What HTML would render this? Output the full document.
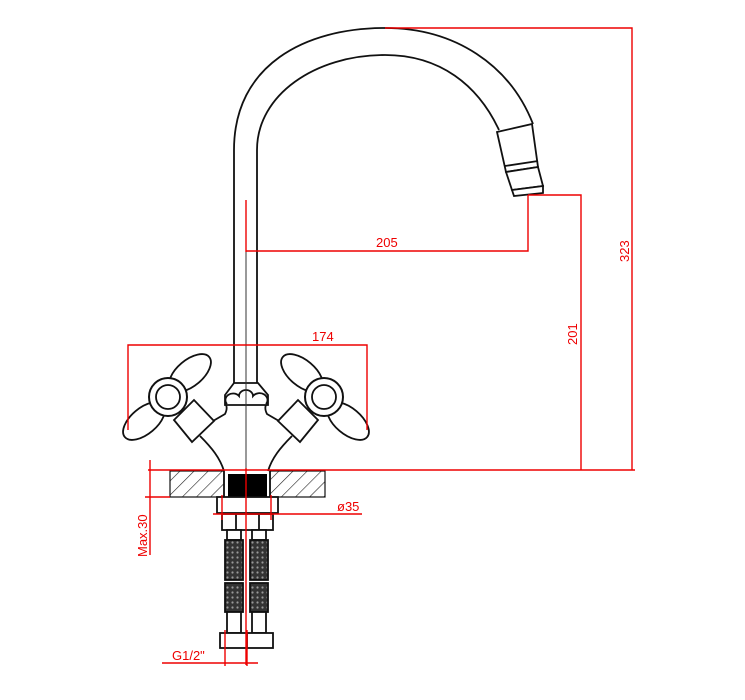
<!DOCTYPE html>
<html><head><meta charset="utf-8"><style>
html,body{margin:0;padding:0;background:#fff;}
svg{display:block;}
text{font-family:"Liberation Sans",sans-serif;fill:#e00;font-size:13px;}
</style></head><body>
<svg width="745" height="700" viewBox="0 0 745 700" xmlns="http://www.w3.org/2000/svg">
<defs>
<pattern id="h" width="10" height="10" patternUnits="userSpaceOnUse" patternTransform="rotate(45)">
<line x1="0" y1="0" x2="0" y2="10" stroke="#222" stroke-width="1.2"/>
</pattern>
<pattern id="m" width="5" height="5" patternUnits="userSpaceOnUse">
<rect width="5" height="5" fill="#333"/><circle cx="2.5" cy="2.5" r="1.1" fill="#999"/>
</pattern>
<g id="hd">
<ellipse cx="190" cy="373" rx="25" ry="13" transform="rotate(-40 190 373)" fill="#fff" stroke="#111" stroke-width="1.8"/>
<ellipse cx="144" cy="421" rx="25" ry="13" transform="rotate(-40 144 421)" fill="#fff" stroke="#111" stroke-width="1.8"/>
<polygon points="174,420 194,400 214,421 192,442" fill="#fff" stroke="#111" stroke-width="1.8"/>
<circle cx="168" cy="397" r="19" fill="#fff" stroke="#111" stroke-width="2"/>
<circle cx="168" cy="397" r="12" fill="#fff" stroke="#111" stroke-width="1.8"/>
</g>
</defs>
<g fill="none" stroke="#111" stroke-width="1.8">
<path d="M234,383 L234,150 C234,65 305,28 385,28 C455,28 510,65 533,124"/>
<path d="M257,383 L257,150 C257,95 315,55 385,55 C440,55 478,85 499,130"/>
<polygon points="497,132 532,124 538,167 506,172" fill="#fff"/>
<line x1="505" y1="166" x2="538" y2="161"/>
<polygon points="506,172 538,167 543,186 512,190" fill="#fff"/>
<polygon points="512,190 543,186 543,193 514,196" fill="#fff"/>
<path d="M213,421 L225,414 C228,408 226,405 226,405"/>
<path d="M279,421 L267,414 C264,408 266,405 266,405"/>
<path d="M200,436 C212,448 220,458 224,471"/>
<path d="M292,436 C280,448 272,458 268,471"/>
<path d="M234,383 L258,383 L268,395 L268,405 L225,405 L225,395 Z" fill="#fff"/>
<path d="M227,404 a7,6 0 0 1 12,-8 a7,6 0 0 1 14,0 a7,6 0 0 1 13,8"/>
</g>
<use href="#hd"/>
<use href="#hd" transform="translate(492,0) scale(-1,1)"/>
<rect x="170" y="471" width="54" height="26" fill="url(#h)" stroke="#111" stroke-width="1.2"/>
<rect x="270" y="471" width="55" height="26" fill="url(#h)" stroke="#111" stroke-width="1.2"/>
<rect x="228" y="474" width="39" height="23" fill="#000"/>
<line x1="224" y1="471" x2="224" y2="497" stroke="#111" stroke-width="1.8"/>
<line x1="270" y1="471" x2="270" y2="497" stroke="#111" stroke-width="1.8"/>
<g fill="#fff" stroke="#111" stroke-width="1.8">
<rect x="217" y="497" width="61" height="16"/>
<rect x="222" y="514" width="51" height="16"/>
<line x1="236" y1="514" x2="236" y2="530"/><line x1="259" y1="514" x2="259" y2="530"/>
<rect x="227" y="530" width="14" height="10"/><rect x="252" y="530" width="14" height="10"/>
<rect x="225" y="540" width="18" height="40" fill="url(#m)"/><rect x="250" y="540" width="18" height="40" fill="url(#m)"/>
<rect x="225" y="583" width="18" height="29" fill="url(#m)"/><rect x="250" y="583" width="18" height="29" fill="url(#m)"/>
<rect x="227" y="612" width="14" height="21"/><rect x="252" y="612" width="14" height="21"/>
<rect x="220" y="633" width="27" height="15"/><rect x="247" y="633" width="26" height="15"/>
</g>
<line x1="246" y1="200" x2="246" y2="665" stroke="#333" stroke-width="1"/>
<g stroke="#e00" stroke-width="1.4" fill="none">
<line x1="246" y1="200" x2="246" y2="252"/>
<line x1="246" y1="468" x2="246" y2="665"/>
<polyline points="246,251 528,251 528,195"/>
<polyline points="528,195 581,195 581,470"/>
<polyline points="385,28 632,28 632,470"/>
<line x1="148" y1="470" x2="635" y2="470"/>
<polyline points="128,430 128,345 367,345 367,430"/>
<line x1="150" y1="460" x2="150" y2="555"/>
<line x1="145" y1="497" x2="170" y2="497"/>
<line x1="213" y1="514" x2="362" y2="514"/>
<line x1="222" y1="495" x2="222" y2="520"/><line x1="271" y1="495" x2="271" y2="520"/>
<line x1="162" y1="663" x2="258" y2="663"/>
<line x1="225" y1="630" x2="225" y2="666"/><line x1="247" y1="630" x2="247" y2="666"/>
</g>
<text x="376" y="247">205</text>
<text x="312" y="341">174</text>
<text x="337" y="511">ø35</text>
<text x="172" y="660">G1/2"</text>
<text transform="translate(577,345) rotate(-90)">201</text>
<text transform="translate(629,262) rotate(-90)">323</text>
<text transform="translate(147,557) rotate(-90)">Max.30</text>
</svg>
</body></html>
